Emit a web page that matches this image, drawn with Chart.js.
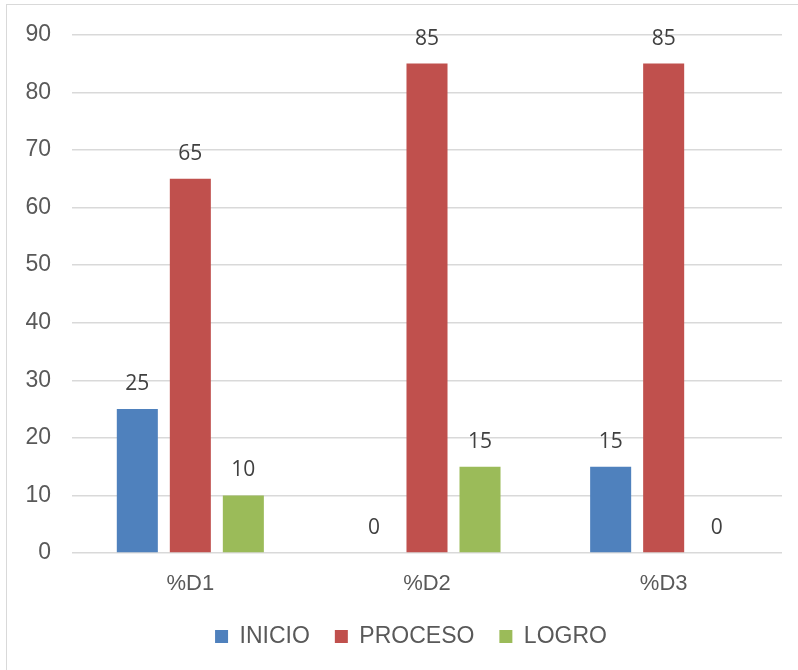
<!DOCTYPE html>
<html>
<head>
<meta charset="utf-8">
<script src="https://cdn.jsdelivr.net/npm/chart.js@4.4.1/dist/chart.umd.min.js"></script>
<style>
    html, body { margin: 0; padding: 0; background: #ffffff; overflow: hidden; }
    #frame {
        position: absolute; left: 6px; top: 4px;
        width: 1000px; height: 1000px;
        border-left: 1.5px solid #d9d9d9;
        border-top: 1.5px solid #d9d9d9;
    }
    #wrap { position: absolute; left: 0; top: 0; width: 798px; height: 670px; }
</style>
</head>
<body>
<div id="frame"></div>
<div id="wrap"><canvas id="barChart"></canvas></div>
<script>
// Chart data
const categories = ['%D1', '%D2', '%D3'];
const inicio = [25, 0, 15];
const proceso = [65, 85, 85];
const logro = [10, 15, 0];
const yTicks = [0, 10, 20, 30, 40, 50, 60, 70, 80, 90];

const textColor = '#595959';
const gridColor = '#d9d9d9';
const sans = '"Liberation Sans", Arial, sans-serif';

// Value labels above each bar
const valueLabels = {
    id: 'valueLabels',
    afterDatasetsDraw(chart) {
        const ctx = chart.ctx;
        ctx.save();
        ctx.font = '21px "Open Sans"';
        ctx.fillStyle = '#404040';
        ctx.textAlign = 'center';
        ctx.textBaseline = 'middle';
        chart.data.datasets.forEach((ds, i) => {
            chart.getDatasetMeta(i).data.forEach((bar, j) => {
                ctx.fillText(String(ds.data[j]), bar.x, bar.y - 25);
            });
        });
        ctx.restore();
    }
};

// Nudge the legend a little to the right, as in the original
const legendShift = {
    id: 'legendShift',
    afterLayout(chart) {
        if (chart.legend) {
            chart.legend.left += 20;
            chart.legend.right += 20;
        }
    }
};

const ctx = document.getElementById('barChart');
new Chart(ctx, {
    type: 'bar',
    data: {
        labels: categories,
        datasets: [
            { label: 'INICIO', data: inicio, backgroundColor: '#4F81BD' },
            { label: 'PROCESO', data: proceso, backgroundColor: '#C0504D' },
            { label: 'LOGRO', data: logro, backgroundColor: '#9BBB59' }
        ]
    },
    options: {
        responsive: true,
        maintainAspectRatio: false,
        animation: false,
        datasets: {
            bar: { categoryPercentage: 0.672, barPercentage: 0.774 }
        },
        layout: { padding: { top: 33, right: 16, bottom: 12, left: 0 } },
        plugins: {
            tooltip: { enabled: false },
            legend: {
                position: 'bottom',
                labels: {
                    boxWidth: 13,
                    boxHeight: 13,
                    padding: 25,
                    color: textColor,
                    font: { family: sans, size: 23 }
                }
            }
        },
        scales: {
            x: {
                grid: { display: false, drawTicks: false },
                border: { display: false },
                ticks: {
                    padding: 18,
                    color: textColor,
                    font: { family: sans, size: 22 }
                },
                afterFit: (scale) => { scale.height = 47; }
            },
            y: {
                min: 0,
                max: 90,
                afterBuildTicks: (scale) => { scale.ticks = yTicks.map(v => ({ value: v })); },
                grid: { color: gridColor, lineWidth: 1.5, drawTicks: false },
                border: { display: false },
                ticks: {
                    padding: 21,
                    color: textColor,
                    font: { family: sans, size: 23 }
                },
                afterFit: (scale) => { scale.width = 72; }
            }
        }
    },
    plugins: [valueLabels, legendShift]
});
</script>
</body>
</html>
